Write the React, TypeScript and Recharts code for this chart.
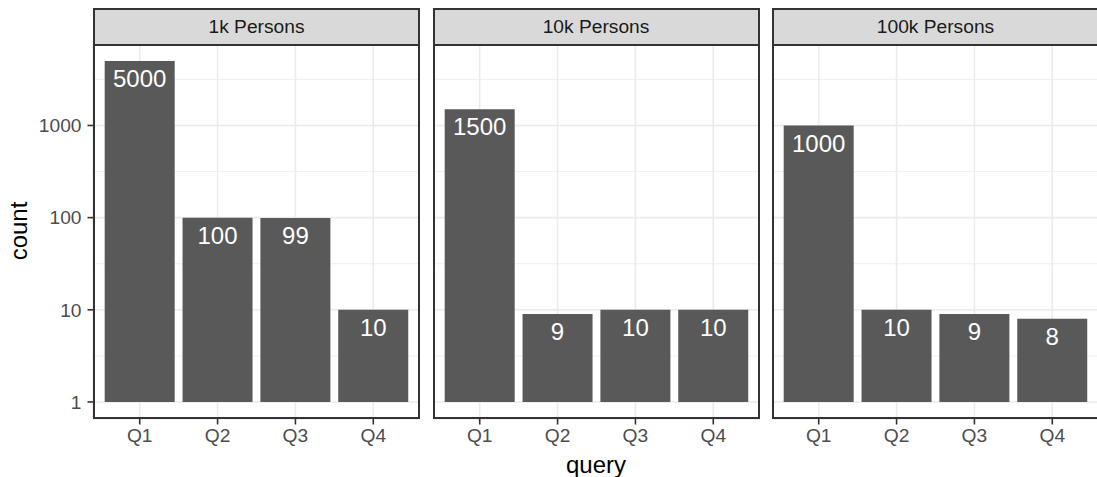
import { Bar, BarChart, CartesianGrid, LabelList, XAxis, YAxis } from 'recharts'

const queries = ['Q1', 'Q2', 'Q3', 'Q4']
const facets = ['1k Persons', '10k Persons', '100k Persons']
const counts1k = [5000, 100, 99, 10]
const counts10k = [1500, 9, 10, 10]
const counts100k = [1000, 10, 9, 8]
const yTicks = [1, 10, 100, 1000]
const yMinor = [3.1623, 31.623, 316.23, 3162.3]
const yDomain = [0.6533, 7654]

const seriesByFacet = [counts1k, counts10k, counts100k]

const PANEL_LEFT = [93, 432.5, 772]
const PANEL_W = 327
const PANEL_H = 375
const STRIP_TOP = 8
const STRIP_H = 36
const PANEL_TOP = STRIP_TOP + STRIP_H
const Y_AXIS_W = 60
const X_AXIS_H = 40

const FONT = '"Liberation Sans", Arial, Helvetica, sans-serif'
const GRID = '#ebebeb'
const BORDER = '#333333'
const SMALL = 19.2
const BIG = 24

function Panel({ index }: { index: number }) {
  const data = queries.map((q, i) => ({ query: q, count: seriesByFacet[index][i] }))
  const showY = index === 0
  const yW = showY ? Y_AXIS_W : 0
  const left = PANEL_LEFT[index]

  return (
    <>
      <div
        style={{
          position: 'absolute',
          left,
          top: STRIP_TOP,
          width: PANEL_W,
          height: STRIP_H,
          boxSizing: 'border-box',
          background: '#d9d9d9',
          border: `2px solid ${BORDER}`,
          borderBottom: 'none',
          color: '#1a1a1a',
          fontSize: SMALL,
          lineHeight: `${STRIP_H - 2}px`,
          textAlign: 'center',
        }}
      >
        {facets[index]}
      </div>
      <div style={{ position: 'absolute', left: left - yW, top: PANEL_TOP }}>
        <BarChart
          width={yW + PANEL_W}
          height={PANEL_H + X_AXIS_H}
          data={data}
          margin={{ top: 0, right: 0, bottom: 0, left: 0 }}
          barCategoryGap="5%"
        >
          <CartesianGrid stroke={GRID} strokeWidth={0.8} vertical={false} horizontalValues={yMinor} />
          <CartesianGrid stroke={GRID} strokeWidth={1.6} />
          <XAxis
            dataKey="query"
            height={X_AXIS_H}
            padding={{ left: 7.8, right: 7.8 }}
            axisLine={false}
            tickSize={5.5}
            tickMargin={4}
            tickLine={{ stroke: BORDER, strokeWidth: 1.6 }}
            tick={{ fill: '#4d4d4d', fontSize: SMALL, fontFamily: FONT }}
          />
          <YAxis
            type="number"
            scale="log"
            domain={yDomain}
            allowDataOverflow
            ticks={yTicks}
            width={Y_AXIS_W}
            hide={!showY}
            axisLine={false}
            tickSize={5.5}
            tickMargin={6}
            tickLine={{ stroke: BORDER, strokeWidth: 1.6 }}
            tick={{ fill: '#4d4d4d', fontSize: SMALL, fontFamily: FONT }}
          />
          <Bar dataKey={(d: { count: number }) => [1, d.count]} fill="#595959" isAnimationActive={false}>
            <LabelList
              dataKey="count"
              position="insideTop"
              offset={9}
              fill="#ffffff"
              fontSize={BIG}
              fontFamily={FONT}
            />
          </Bar>
        </BarChart>
      </div>
      <div
        style={{
          position: 'absolute',
          left,
          top: PANEL_TOP,
          width: PANEL_W,
          height: PANEL_H,
          boxSizing: 'border-box',
          border: `2px solid ${BORDER}`,
          pointerEvents: 'none',
        }}
      />
    </>
  )
}

export default function App() {
  return (
    <div
      style={{
        position: 'absolute',
        left: 0,
        top: 0,
        width: 1097,
        height: 477,
        overflow: 'hidden',
        background: '#ffffff',
        fontFamily: FONT,
      }}
    >
      {facets.map((f, i) => (
        <Panel key={f} index={i} />
      ))}
      <div
        style={{
          position: 'absolute',
          left: 596 - 60,
          top: 451,
          width: 120,
          textAlign: 'center',
          fontSize: BIG,
          lineHeight: '28px',
          color: '#000000',
        }}
      >
        query
      </div>
      <div
        style={{
          position: 'absolute',
          left: 19 - 60,
          top: 231 - 14,
          width: 120,
          textAlign: 'center',
          fontSize: BIG,
          lineHeight: '28px',
          color: '#000000',
          transform: 'rotate(-90deg)',
        }}
      >
        count
      </div>
    </div>
  )
}
